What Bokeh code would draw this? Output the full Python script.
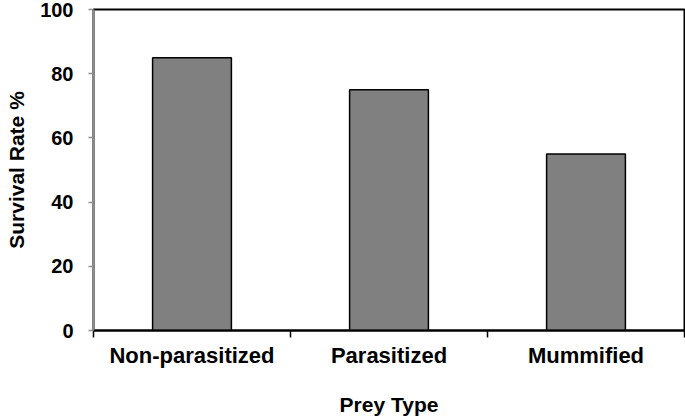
from bokeh.plotting import figure
from bokeh.models import Range1d, LinearAxis, FixedTicker, ColumnDataSource
from bokeh.embed import file_html
from bokeh.resources import INLINE

categories = ["Non-parasitized", "Parasitized", "Mummified"]
survival = [85, 75, 55]
y_ticks = [0, 20, 40, 60, 80, 100]
x_title = "Prey Type"
y_title = "Survival Rate %"

FONT = "Liberation Sans"

n = len(categories)
centers = [i + 0.5 for i in range(n)]
bounds = list(range(n + 1))

p = figure(width=685, height=418,
           x_range=Range1d(0, n),
           y_range=Range1d(0, 100),
           output_backend="svg", toolbar_location=None,
           x_axis_location=None, y_axis_location=None,
           min_border_left=93, min_border_right=1, min_border_top=9, min_border_bottom=87)
p.outline_line_color = "black"
p.outline_line_width = 2
p.xgrid.visible = False
p.ygrid.visible = False
p.background_fill_color = "white"
p.border_fill_color = "white"

src = ColumnDataSource(dict(x=centers, cat=categories, val=survival))
p.vbar(x="x", top="val", width=0.4, source=src,
       fill_color="#808080", line_color="black", line_width=1.5)

# boundary ticks axis
bx = LinearAxis(ticker=FixedTicker(ticks=bounds),
                axis_line_color="black", axis_line_width=2,
                major_tick_line_color="black", major_tick_line_width=1.5,
                major_tick_out=7, major_tick_in=0,
                minor_tick_line_color=None, minor_tick_out=0, minor_tick_in=0,
                major_label_text_font_size="0px", major_label_standoff=0)
p.add_layout(bx, "below")

# category labels axis
cx = LinearAxis(ticker=FixedTicker(ticks=centers),
                major_label_overrides={c: name for c, name in zip(centers, categories)},
                axis_line_color=None, major_tick_line_color=None,
                major_tick_out=0, major_tick_in=0,
                minor_tick_line_color=None, minor_tick_out=0, minor_tick_in=0,
                major_label_standoff=5,
                major_label_text_font=FONT, major_label_text_font_size="22px",
                major_label_text_font_style="bold", major_label_text_color="black",
                axis_label=x_title, axis_label_standoff=22,
                axis_label_text_font=FONT, axis_label_text_font_size="21px",
                axis_label_text_font_style="bold", axis_label_text_color="black")
p.add_layout(cx, "below")

# y axis
ya = LinearAxis(ticker=FixedTicker(ticks=y_ticks),
                axis_line_color="#8c8c8c", axis_line_width=2,
                major_tick_line_color="#8c8c8c", major_tick_line_width=1.5,
                major_tick_out=5, major_tick_in=0,
                minor_tick_line_color=None, minor_tick_out=0, minor_tick_in=0,
                major_label_standoff=15,
                major_label_text_font=FONT, major_label_text_font_size="20px",
                major_label_text_font_style="bold", major_label_text_color="black",
                axis_label=y_title, axis_label_standoff=9,
                axis_label_text_font=FONT, axis_label_text_font_size="21px",
                axis_label_text_font_style="bold", axis_label_text_color="black")
p.add_layout(ya, "left")

open("out.html", "w").write(file_html(p, INLINE))
